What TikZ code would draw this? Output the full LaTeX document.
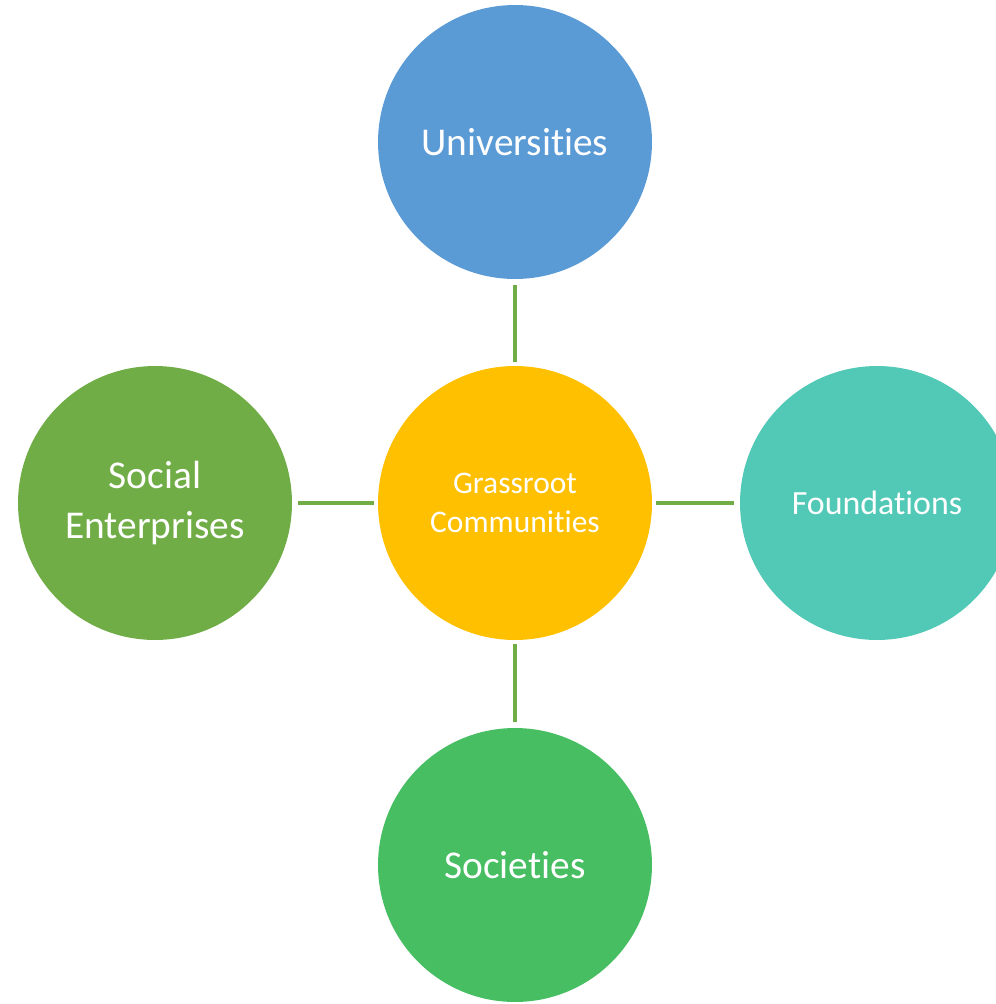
\documentclass[tikz,border=0pt]{standalone}
\usepackage{fontspec}
\setmainfont[Ligatures=NoCommon]{Carlito}
\definecolor{uniblue}{HTML}{5B9BD5}
\definecolor{grassgold}{HTML}{FFC000}
\definecolor{foundteal}{HTML}{52C9B6}
\definecolor{socgreen}{HTML}{70AD47}
\definecolor{societygreen}{HTML}{47BE62}
\definecolor{linkgreen}{HTML}{70AD47}

\begin{document}
\begin{tikzpicture}[x=0.02cm,y=-0.02cm,
    bubble/.style={circle,inner sep=0pt,minimum size=5.48cm,text=white,align=center,
                   font=\fontsize{22.4}{28.8}\selectfont},
    link/.style={draw=linkgreen,line width=2pt,shorten <=3.5pt,shorten >=2pt}]
    \useasboundingbox (0,0) rectangle (995,1004);
    \node[bubble,fill=grassgold,font=\fontsize{17.9}{22.4}\selectfont] (grass) at (515,503) {Grassroot\\Communities};
    \node[bubble,fill=uniblue] (uni) at (515,142) {Universities};
    \node[bubble,fill=socgreen] (socent) at (155,503) {Social\\Enterprises};
    \node[bubble,fill=foundteal,font=\fontsize{19.3}{23}\selectfont] (found) at (877,503) {Foundations};
    \node[bubble,fill=societygreen] (society) at (515,865) {Societies};

    \draw[link] (uni) -- (grass);
    \draw[link] (socent) -- (grass);
    \draw[link,shorten <=2pt,shorten >=3pt] (grass) -- (found);
    \draw[link,shorten <=2pt,shorten >=3pt] (grass) -- (society);
\end{tikzpicture}
\end{document}
